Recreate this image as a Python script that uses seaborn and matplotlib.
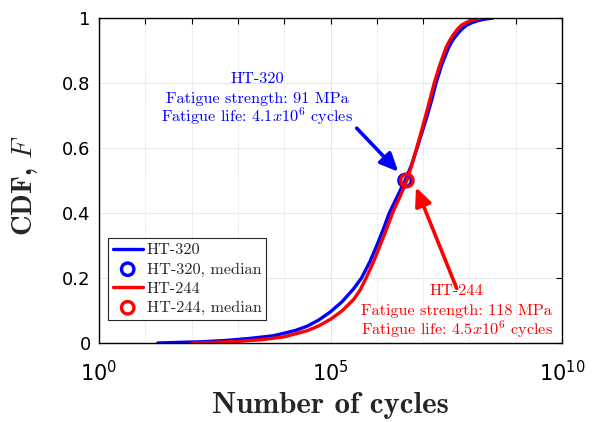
import numpy as np
import pandas as pd
import matplotlib
matplotlib.use("Agg")
import matplotlib.pyplot as plt
import matplotlib.ticker as mticker
import seaborn as sns

# ---- data ----
ht320_log_n = [1.27, 1.75, 2.25, 2.75, 3.25, 3.75, 4.0, 4.25, 4.5, 4.75, 5.0, 5.25, 5.5, 5.67,
               5.85, 6.0, 6.14, 6.27, 6.44, 6.61, 6.75, 6.87, 6.98, 7.09, 7.19, 7.28, 7.40,
               7.545, 7.63, 7.725, 7.83, 7.94, 8.06, 8.19, 8.35, 8.51]
ht320_cdf = [0.000, 0.002, 0.004, 0.008, 0.014, 0.022, 0.030, 0.039, 0.052, 0.071, 0.096, 0.127, 0.167, 0.200,
             0.250, 0.300, 0.350, 0.400, 0.450, 0.500, 0.548, 0.600, 0.650, 0.700, 0.750, 0.800, 0.855,
             0.907, 0.930, 0.948, 0.965, 0.978, 0.986, 0.992, 0.997, 1.000]
ht244_log_n = [2.0, 2.5, 3.0, 3.5, 4.0, 4.5, 4.75, 5.0, 5.25, 5.5, 5.64, 5.77, 5.93, 6.07, 6.21, 6.34,
               6.50, 6.65, 6.76, 6.86, 6.96, 7.055, 7.15, 7.24, 7.36, 7.49, 7.57, 7.65, 7.74, 7.83,
               7.94, 8.05, 8.16, 8.27]
ht244_cdf = [0.000, 0.002, 0.005, 0.010, 0.019, 0.038, 0.053, 0.073, 0.099, 0.134, 0.163, 0.200, 0.250, 0.300,
             0.350, 0.400, 0.450, 0.500, 0.550, 0.600, 0.650, 0.700, 0.750, 0.800, 0.855, 0.907, 0.930,
             0.948, 0.965, 0.978, 0.987, 0.993, 0.997, 1.000]
median_log_n = {"HT-320": 6.61, "HT-244": 6.65}
median_cdf = 0.5
series_names = ["HT-320", "HT-244"]
series_colors = {"HT-320": "#0000ff", "HT-244": "#ff0000"}
y_ticks = [0, 0.2, 0.4, 0.6, 0.8, 1.0]
y_tick_labels = ["0", "0.2", "0.4", "0.6", "0.8", "1"]
x_major_exp = [0, 5, 10]
x_minor_exp = list(range(0, 11))
note_lines = {
    "HT-320": ["HT-320", "Fatigue strength: 91 MPa", "Fatigue life: 4.1$x$10$^6$ cycles"],
    "HT-244": ["HT-244", "Fatigue strength: 118 MPa", "Fatigue life: 4.5$x$10$^6$ cycles"],
}

df = pd.concat([
    pd.DataFrame({"N": 10 ** np.array(ht320_log_n), "F": ht320_cdf, "series": "HT-320"}),
    pd.DataFrame({"N": 10 ** np.array(ht244_log_n), "F": ht244_cdf, "series": "HT-244"}),
])

sns.set_theme(style="white")
plt.rcParams["mathtext.fontset"] = "cm"
plt.rcParams["axes.formatter.use_mathtext"] = True
plt.rcParams["font.family"] = ["DejaVu Sans"]

fig = plt.figure(figsize=(5.96, 4.22), dpi=100)
ax = fig.add_axes([99 / 596, 1 - 343 / 422, 463 / 596, 325 / 422])

for name in series_names:
    sub = df[df["series"] == name]
    sns.lineplot(data=sub, x="N", y="F", ax=ax, color=series_colors[name], lw=2.4,
                 sort=False, label=name, estimator=None)
    sns.scatterplot(x=[10 ** median_log_n[name]], y=[median_cdf], ax=ax, marker="o", s=80,
                    facecolors="none", edgecolor=series_colors[name], linewidth=2.4,
                    label=name + ", median", zorder=5)

ax.set_xscale("log")
ax.set_xlim(1, 1e10)
ax.set_ylim(0, 1)
ax.xaxis.set_major_locator(mticker.FixedLocator([10.0 ** e for e in x_major_exp]))
ax.xaxis.set_minor_locator(mticker.FixedLocator([10.0 ** e for e in x_minor_exp]))
ax.xaxis.set_minor_formatter(mticker.NullFormatter())
ax.set_xticklabels([r"$10^{%d}$" % e for e in x_major_exp], fontsize=15,
                   math_fontfamily="dejavusans")
ax.set_yticks(y_ticks)
ax.set_yticklabels(y_tick_labels, fontsize=13)
ax.tick_params(which="both", direction="in", top=True, right=True, length=4.5, width=0.8,
               colors="black", pad=6)
ax.tick_params(axis="x", which="major", pad=12)

ax.grid(True, which="major", color="#e6e6e6", lw=0.7, ls="-")
ax.grid(True, which="minor", axis="x", color="#d8d8d8", lw=0.7, ls=":")
for s in ax.spines.values():
    s.set_color("black")
    s.set_linewidth(1.0)

ax.set_xlabel("Number of cycles", fontfamily="cmb10", fontsize=22.3)
ax.set_ylabel("CDF, $F$", fontfamily="cmb10", fontsize=20.5)
ax.xaxis.set_label_coords(0.499, -0.151)
ax.yaxis.set_label_coords(-0.127, 0.486)

# annotation arrows
arrow_kw = dict(arrowstyle="-|>,head_length=1.1,head_width=0.5", lw=2.6, shrinkA=0, shrinkB=0,
                mutation_scale=10)
ax.annotate("", xy=(10 ** 6.464, 0.527), xytext=(10 ** 5.566, 0.661),
            arrowprops=dict(color=series_colors["HT-320"], **arrow_kw))
ax.annotate("", xy=(10 ** 6.847, 0.479), xytext=(10 ** 7.726, 0.168),
            arrowprops=dict(color=series_colors["HT-244"], **arrow_kw))

note_pos = {"HT-320": (0.342, [0.799, 0.740, 0.680]),
            "HT-244": (0.773, [0.148, 0.086, 0.027])}
for name in series_names:
    xc, ys = note_pos[name]
    for line, yy in zip(note_lines[name], ys):
        ax.text(xc, yy, line, transform=ax.transAxes, ha="center", va="baseline",
                color=series_colors[name], fontfamily="cmr10", fontsize=11.7)

leg = ax.legend(loc="lower left", bbox_to_anchor=(0.019, 0.071), borderaxespad=0,
                prop={"family": "cmr10", "size": 11.7}, frameon=True, fancybox=False,
                edgecolor="#262626", framealpha=1, handlelength=1.85, handletextpad=0.25,
                labelspacing=0.3, borderpad=0.3)
leg.get_frame().set_linewidth(0.8)

fig.savefig("out.png", dpi=100)
